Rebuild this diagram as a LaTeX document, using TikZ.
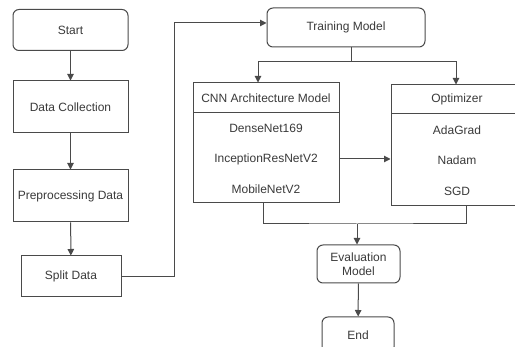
\documentclass[tikz,border=0pt]{standalone}
\usepackage{fontspec}
\setmainfont{Liberation Sans}
\usetikzlibrary{arrows.meta}
\definecolor{ink}{HTML}{3A3A3A}
\definecolor{edge}{HTML}{4A4A4A}
\tikzset{
  box/.style={draw=edge, line width=1pt, text=ink, font=\fontsize{12}{13.5}\selectfont,
    minimum width=#1, inner sep=0pt, align=center},
  rbox/.style={box=#1, rounded corners=6pt},
  item/.style={text=ink, font=\fontsize{12}{13.5}\selectfont, inner sep=0pt},
  link/.style={draw=edge, line width=1pt},
  flow/.style={link, -{Triangle[length=6.5pt,width=6.5pt]}}
}
\begin{document}
\begin{tikzpicture}[x=1pt, y=-1pt]
\useasboundingbox (0,0) rectangle (515,347);
\clip (0,0) rectangle (515,347);
\fill[white] (0,0) rectangle (515,347);

% left column
\node[rbox=115pt, minimum height=41pt] (start) at (70.5,30) {Start};
\node[box=115pt, minimum height=52pt] (collect) at (70.5,107) {Data Collection};
\node[box=115pt, minimum height=52pt] (prep) at (70.5,196) {Preprocessing Data};
\node[box=100pt, minimum height=41pt] (split) at (71,276.5) {Split Data};

% training
\node[rbox=158pt, minimum height=39pt] (train) at (346,27.5) {Training Model};

% CNN architecture box
\node[box=146pt, minimum height=120pt] (cnn) at (266,143) {};
\draw[link] (193,113) -- (339,113);
\node[item] (cnnh) at (266,98) {CNN Architecture Model};
\node[item] (dense) at (266,128) {DenseNet169};
\node[item] (incep) at (266,159) {InceptionResNetV2};
\node[item] (mobile) at (266,189) {MobileNetV2};

% optimizer box
\node[box=134pt, minimum height=121pt] (opt) at (458,145.5) {};
\draw[link] (391,114) -- (525,114);
\node[item] (opth) at (457,99.5) {Optimizer};
\node[item] (ada) at (457,130) {AdaGrad};
\node[item] (nadam) at (457,160) {Nadam};
\node[item] (sgd) at (457,191) {SGD};

% evaluation and end
\node[rbox=83pt, minimum height=38pt] (eval) at (358.5,264) {Evaluation\\Model};
\node[rbox=72pt, minimum height=36pt] (end) at (358,335) {End};

% connectors
\draw[flow] (start) -- (collect);
\draw[flow] (collect) -- (prep);
\draw[flow] (prep) -- (split);

\coordinate (up) at (174,23);
\draw[flow] (split.east) -| (up) -- (train.west |- up);

\coordinate (fork) at (351,62);
\draw[link] (train.south -| fork) -- (fork);
\draw[flow] (fork) -| (258,0 |- cnn.north);
\draw[flow] (fork) -| (456,0 |- opt.north);

\draw[flow] (cnn.east |- incep) -- (opt.west |- incep);

\coordinate (join) at (357,224);
\draw[link] (263,0 |- cnn.south) |- (join) -| (466,0 |- opt.south);
\draw[flow] (join) -- (join |- eval.north);
\draw[flow] (eval) -- (end);
\end{tikzpicture}
\end{document}
